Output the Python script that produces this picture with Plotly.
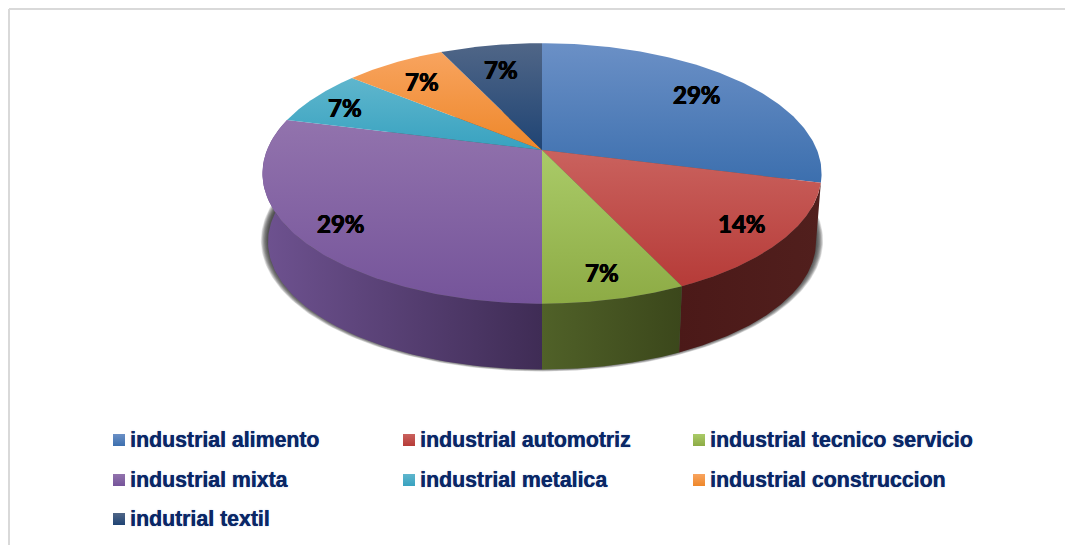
import numpy as np
import plotly.graph_objects as go

# Share of each industrial sector, clockwise from twelve o'clock
categories = ["industrial alimento", "industrial automotriz", "industrial tecnico servicio",
              "industrial mixta", "industrial metalica", "industrial construccion",
              "indutrial textil"]
values = [29, 14, 7, 29, 7, 7, 7]

# Top-face gradients (upper colour, lower colour)
top_colors = [("#6b90c6", "#3c6fae"), ("#ca625e", "#b63b38"), ("#aacb68", "#8dab45"),
              ("#9273ad", "#75549a"), ("#5fb6cd", "#38a2c0"), ("#f8a45f", "#ee872a"),
              ("#506687", "#1f4474")]
# Rim gradients (left colour, right colour); back slices have no visible rim
rim_colors = {1: ("#4b1918", "#511f1d"), 2: ("#506128", "#3b471b"), 3: ("#6e5290", "#3f2c55")}

# Label centres in page pixels
label_pos = [(697, 94), (742, 223), (602, 272), (341, 223), (345, 107), (422, 81), (501, 69)]

# Legend grid in page pixels
legend_cols = [113, 403, 693]
legend_rows = [440, 480, 519]
swatch = 12
NAVY = "#0a2766"

# Perspective disc: unit circle tilted away from the viewer
CX, CY = 542, 150
A, B, K = 275, 126, 0.18
# Lower rim of the disc
RIM_SCALE, RIM_CY = 0.98, 219


def project(t, scale=1.0, cy=CY):
    """Map clockwise angle (radians from twelve o'clock) onto the page."""
    X, Y = np.sin(t), np.cos(t)
    d = 1 + K * Y
    return CX + scale * A * X / d, cy - scale * B * Y / d


fig = go.Figure()


def polygon(x, y, **style):
    fig.add_trace(go.Scatter(x=list(x), y=list(y), mode="lines", fill="toself",
                             line=dict(width=0), hoverinfo="skip", showlegend=False, **style))


def gradient(kind, c0, c1, **extra):
    return dict(type=kind, colorscale=[[0, c0], [1, c1]], **extra)


# Soft drop shadow beneath the rim
full = np.linspace(0, 2 * np.pi, 361)
for grow in np.linspace(1.026, 1.002, 12):
    sx, sy = project(full, RIM_SCALE * grow, RIM_CY - 2)
    polygon(sx, sy, fillcolor="rgba(50,50,50,0.13)")

edges = np.radians(np.cumsum([0] + values) * 3.6)

# Rim of the slices that face the viewer
for i, (c0, c1) in rim_colors.items():
    t = np.linspace(edges[i], edges[i + 1], 120)
    tx, ty = project(t)
    bx, by = project(t, RIM_SCALE, RIM_CY)
    polygon(np.r_[tx, bx[::-1]], np.r_[ty, by[::-1]],
            fillgradient=gradient("horizontal", c0, c1))

# Top face; the page axis runs downward, so the gradient stops are given lower colour first
for i in range(len(values)):
    t = np.linspace(edges[i], edges[i + 1], 120)
    x, y = project(t)
    polygon(np.r_[CX, x, CX], np.r_[CY, y, CY],
            fillgradient=gradient("vertical", top_colors[i][1], top_colors[i][0]))

# Percentage labels, thickened slightly with a tight text shadow
annotations = [dict(x=px, y=py, xref="x", yref="y", text=f"<b>{v}%</b>", showarrow=False,
                    font=dict(family="Lato", size=24, color="#000000",
                              shadow="0.5px 0 0 #000, -0.5px 0 0 #000, 0 0.4px 0 #000"))
               for v, (px, py) in zip(values, label_pos)]

# Legend swatches and captions
for i, name in enumerate(categories):
    x0 = legend_cols[i % 3]
    yc = legend_rows[i // 3]
    polygon([x0, x0 + swatch, x0 + swatch, x0, x0],
            [yc - swatch / 2, yc - swatch / 2, yc + swatch / 2, yc + swatch / 2, yc - swatch / 2],
            fillgradient=gradient("vertical", top_colors[i][1], top_colors[i][0]))
    annotations.append(dict(x=x0 + 14.5, y=yc - 0.5, xref="x", yref="y", xanchor="left",
                            text=f"<b>{name}</b>", showarrow=False,
                            font=dict(family="Liberation Sans", size=21.3, color=NAVY,
                                      shadow="0.3px 0 0 #0a2766, 0 0 2px #b9c6e2")))

# Chart frame, open toward the page edges
frame = dict(type="line", xref="x", yref="y", line=dict(color="#d9d9d9", width=2))
shapes = [dict(frame, x0=9, y0=9, x1=1065, y1=9), dict(frame, x0=9, y0=9, x1=9, y1=545)]

fig.update_layout(
    width=1065, height=545, margin=dict(l=0, r=0, t=0, b=0),
    paper_bgcolor="white", plot_bgcolor="white", showlegend=False,
    xaxis=dict(range=[0, 1065], visible=False, fixedrange=True),
    yaxis=dict(range=[545, 0], visible=False, fixedrange=True),
    annotations=annotations, shapes=shapes,
)

fig.write_html("out.html", config=dict(displayModeBar=False))
